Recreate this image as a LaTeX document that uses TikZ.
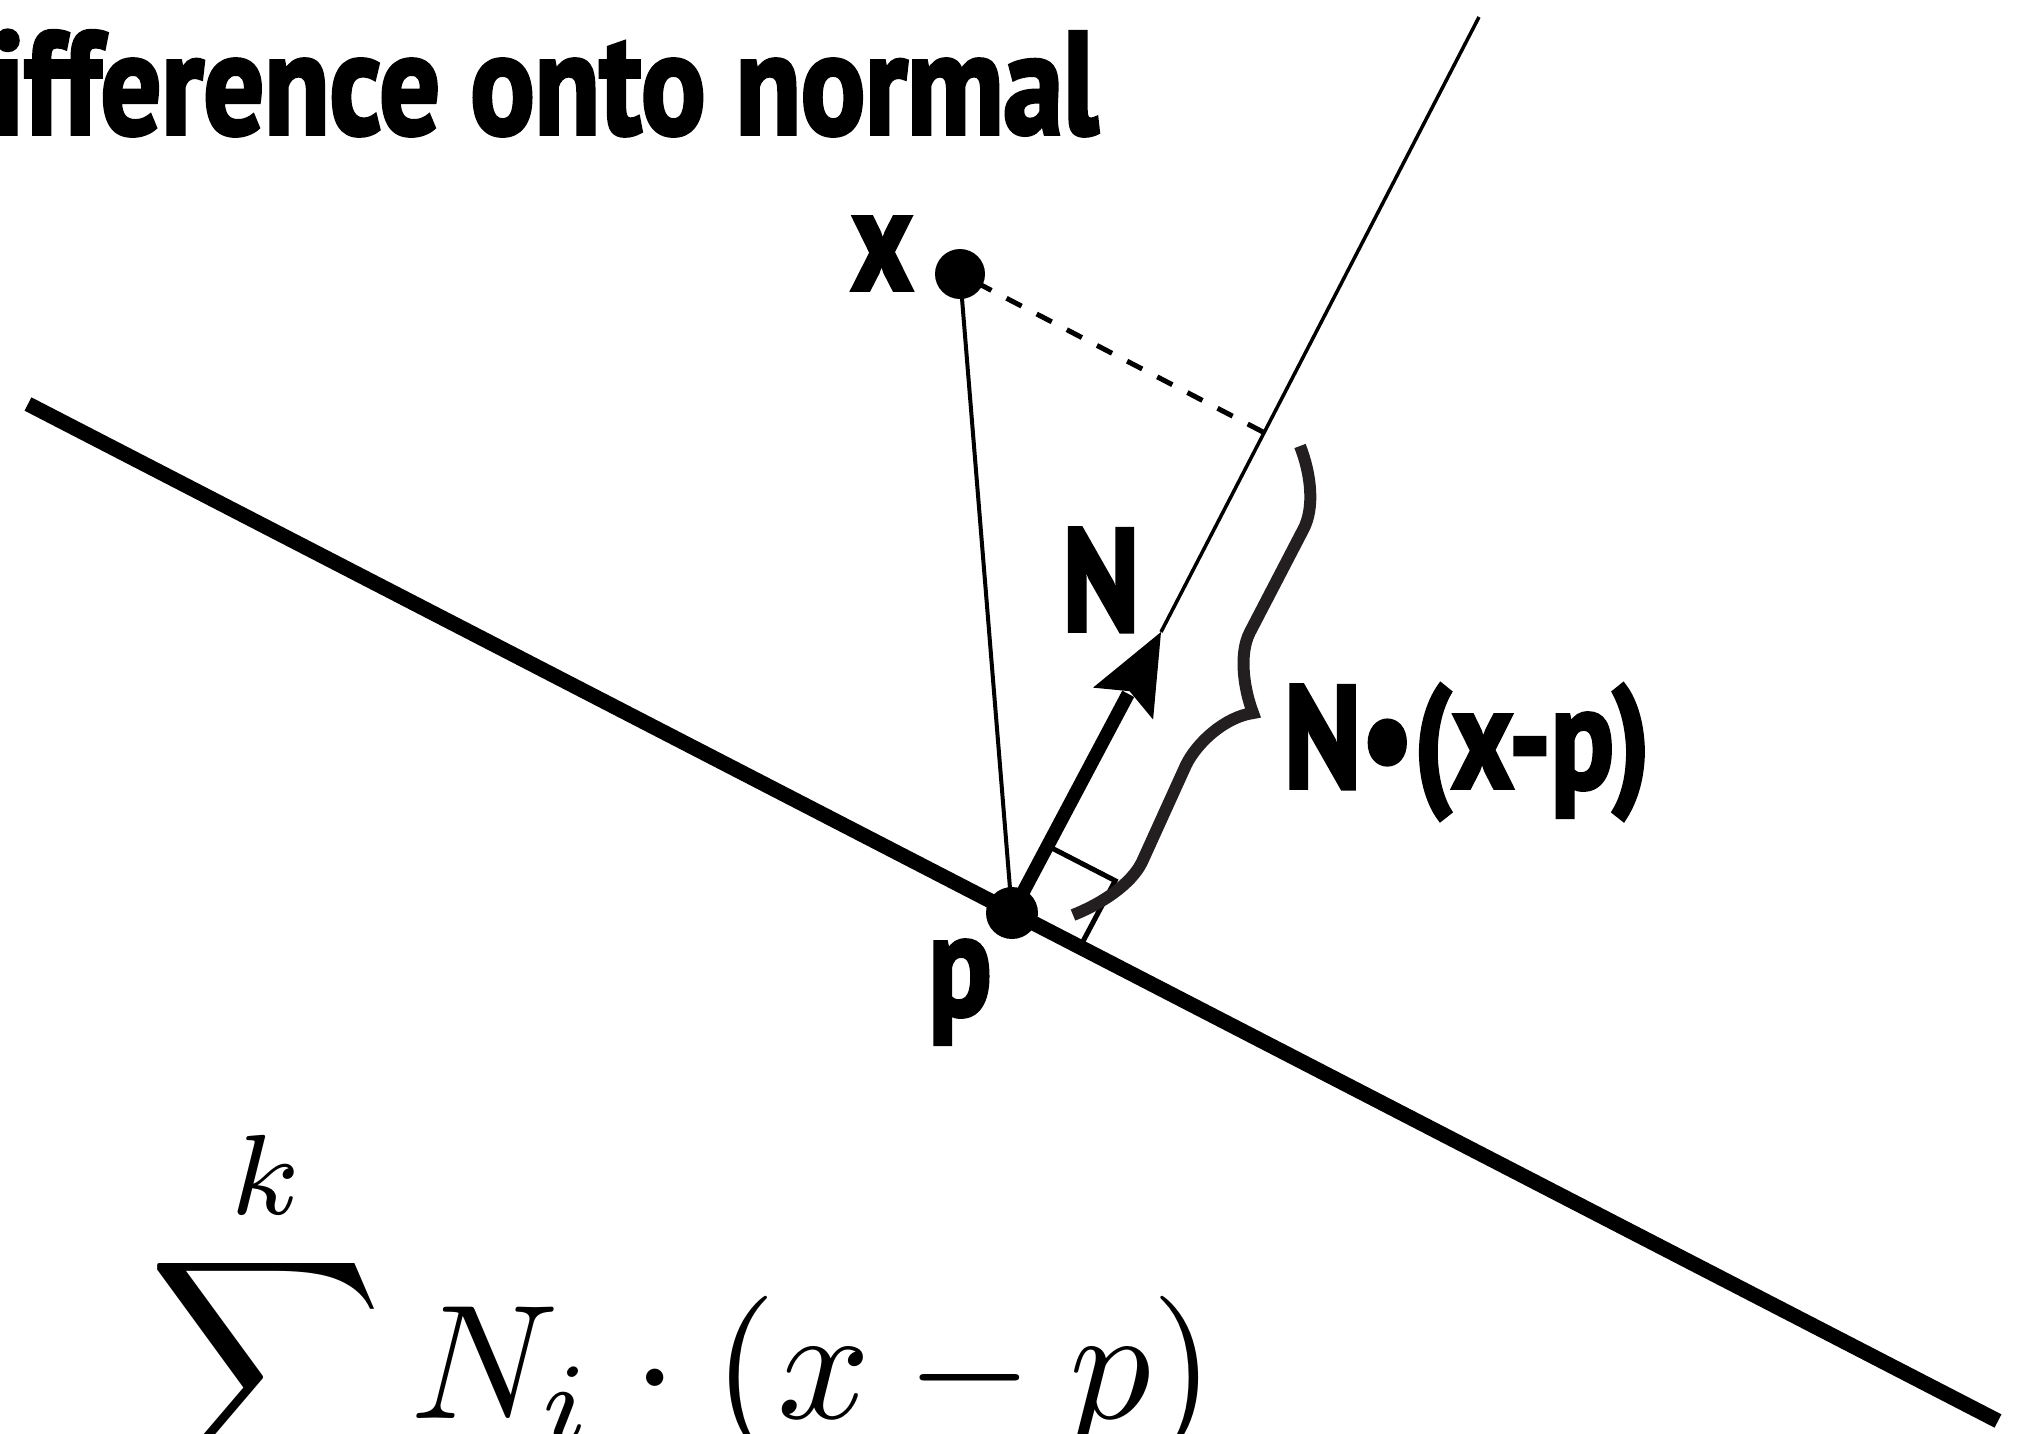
\documentclass[tikz,border=0pt]{standalone}
\usepackage{graphicx}
\usepackage{fontspec}
\usetikzlibrary{calc}
\newfontfamily\lblfont[FakeStretch=0.80, BoldFeatures={FakeBold=2.5}]{PT Sans}
\newfontfamily\titlefont[FakeStretch=0.82, BoldFeatures={FakeBold=2.5}]{PT Sans}
\definecolor{bracecol}{HTML}{231F20}
\tikzset{
  lbl/.style={inner sep=0pt, font=\lblfont\bfseries\fontsize{146}{170}\selectfont},
  titlelbl/.style={inner sep=0pt, font=\titlefont\bfseries\fontsize{146}{170}\selectfont},
  mathlbl/.style={inner sep=0pt, font=\fontsize{10}{12}\selectfont},
  planeline/.style={line width=15pt, line cap=butt},
  thinline/.style={line width=4pt},
  normline/.style={line width=3.5pt},
  dashline/.style={line width=5pt, dash pattern=on 17pt off 17pt},
  shaft/.style={line width=13.5pt},
  marker/.style={line width=5pt, line join=miter},
  bracestyle/.style={line width=12pt, draw=bracecol, line join=miter, line cap=butt},
  dot/.style={circle, fill=black, inner sep=0pt, minimum size=#1},
}
\begin{document}
\begin{tikzpicture}[x=1pt,y=-1pt]
\useasboundingbox (0,0) rectangle (2021,1433);
\coordinate (pl1) at (28,404);
\coordinate (pl2) at (1998,1421);
\coordinate (tip) at (1161,632);
\coordinate (top) at (1479,17);
% plane
\draw[planeline] (pl1) -- (pl2);
\path (960,274) coordinate (xc);
\path (1012,913) coordinate (pc);
% thin line x -> p
\draw[thinline] (xc) -- (pc);
% normal line extension
\draw[normline] (tip) -- (top);
% foot of perpendicular
\coordinate (foot) at ($(pc)!(xc)!(top)$);
\draw[dashline] (foot) -- (xc);
% right angle marker
\coordinate (ma) at ($(pc)!76pt!(tip)$);
\coordinate (mc) at ($(pc)!76pt!(pl2)$);
\coordinate (mb) at ($(ma)+(mc)-(pc)$);
\draw[marker] (ma) -- (mb) -- (mc);
% brace
\draw[bracestyle] (1300,446) .. controls (1311,474) and (1315,508) .. (1303,530)
  -- (1250,632) .. controls (1238.5,654) and (1244,689.5) .. (1253,713)
  .. controls (1225,717) and (1197,742.5) .. (1186,765)
  -- (1142,862) .. controls (1131,884.5) and (1101,904) .. (1073,915);
% arrow N
\draw[shaft] (pc) -- ($(tip)!70pt!(pc)$);
\begin{scope}[shift={(tip)}, rotate=62.06]
  \fill (0,0) -- (-81,34) -- (-67,0) -- (-81,-34) -- cycle;
\end{scope}
% dots
\node[dot=50pt] (xdot) at (xc) {};
\node[dot=52pt] (pdot) at (pc) {};
% labels
\node[titlelbl, anchor=base west] (title) at (-8,134) {ifference onto normal};
\node[lbl, anchor=base] (xlab) at (882,290) {x};
\node[lbl, anchor=base] (plab) at (960,1015) {p};
\node[lbl, anchor=base] (nlab) at (1101,631) {N};
\node[lbl, anchor=base west] (proj) at (1284,788) {N•(x-p)};
\node[mathlbl, anchor=base west] (formula) at (148,1418) {\scalebox{16.3}{$\displaystyle\sum^{k} N_i\cdot(x-p)$}};
\end{tikzpicture}
\end{document}
